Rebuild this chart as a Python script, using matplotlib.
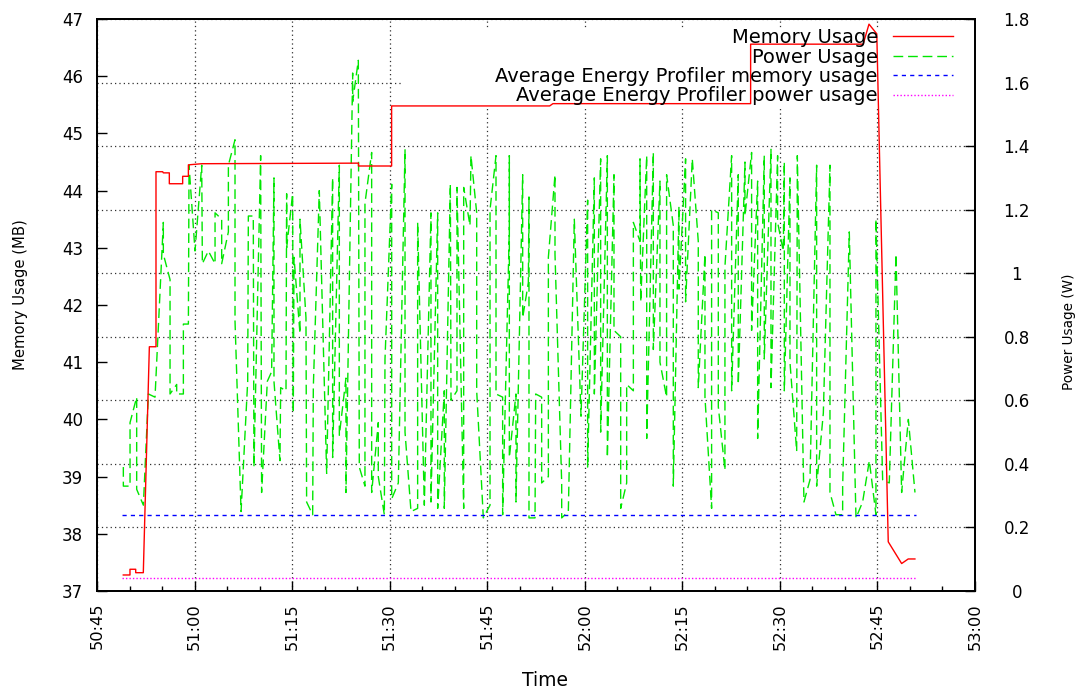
import matplotlib
matplotlib.use("Agg")
import matplotlib.pyplot as plt
from matplotlib.ticker import MultipleLocator, FuncFormatter
from matplotlib.patches import Rectangle

plt.rcParams['font.family'] = ['DejaVu Sans']

# ---------------- data (time = seconds after 50:00) ----------------
mem_time = [49.04, 50.07, 50.07, 50.95, 50.95, 52.12, 53.05, 54.07, 54.07, 55.1,
            55.2, 56.12, 56.12, 58.17, 58.17, 59.05, 59.05, 61.1, 85.2, 85.2,
            90.3, 90.3, 114.6, 115.1, 145.5, 145.5, 162.8, 163.7, 164.9, 166.66,
            168.72, 169.73, 170.76]
mem_mb = [37.28, 37.28, 37.38, 37.38, 37.32, 37.32, 41.27, 41.27, 44.33, 44.33,
          44.31, 44.31, 44.12, 44.12, 44.25, 44.25, 44.45, 44.47, 44.48, 44.43,
          44.43, 45.48, 45.48, 45.52, 45.52, 46.56, 46.56, 46.91, 46.74, 37.86,
          37.48, 37.56, 37.56]

power_time = [
    49.05, 49.05, 50.08, 50.08, 51.10, 51.10, 52.13, 52.90, 53.92, 55.20,
    55.20, 56.23, 56.23, 57.25, 57.25, 58.28, 58.28, 59.05, 59.15, 60.07,
    61.10, 61.20, 62.12, 63.15, 63.15, 64.17, 64.17, 65.20, 65.20, 66.22,
    66.22, 67.15, 68.17, 68.27,
    69.03, 69.13, 70.16, 70.31, 71.19, 71.85, 72.21, 72.21, 73.13, 73.24,
    74.06, 74.16, 74.16, 75.08, 75.18, 75.29, 76.21, 76.21, 77.13, 77.23,
    78.16, 78.26, 79.18, 80.31, 81.23, 81.23, 82.26, 82.26, 83.28, 83.28,
    84.31, 84.31, 85.18, 85.33, 86.20, 86.20, 87.23, 87.23, 88.25, 88.25,
    89.18, 89.28,
    90.31, 90.31, 91.33, 92.36, 92.36, 93.28, 94.30, 94.30, 95.33, 96.35,
    96.35, 97.38, 97.38, 98.40, 98.40, 99.33, 99.43, 100.35, 100.35, 101.38,
    101.38, 102.35, 102.50, 103.38, 103.38, 104.40, 105.43, 105.43, 106.35, 106.35,
    107.37, 107.37, 108.40, 108.40, 108.40, 109.42, 109.42,
    110.45, 110.45, 111.32, 111.42, 111.42, 112.35, 112.45, 113.37, 113.37, 114.40,
    114.40, 115.42, 115.42, 116.45, 116.45, 117.47, 118.39, 119.42, 120.44, 120.44,
    121.47, 121.47, 122.44, 122.44, 123.47, 123.47, 124.49, 124.49, 125.52, 125.52,
    126.44, 126.44, 127.47, 127.47, 128.49, 128.49, 128.60, 129.52, 129.52, 130.54,
    130.54,
    131.56, 131.56, 132.58, 132.58, 133.61, 133.61, 134.48, 134.48, 135.50, 135.50,
    136.53, 137.45, 137.45, 138.48, 138.48, 139.50, 139.50, 140.53, 140.53, 141.55,
    141.55, 142.58, 142.58, 143.60, 143.60, 144.63, 144.63, 145.65, 145.65, 146.58,
    146.58, 147.60, 147.60, 148.63, 148.63, 149.65, 149.65, 150.52, 150.68, 150.68,
    151.55, 151.55, 152.58, 152.68, 153.70, 154.63, 155.65, 155.65, 156.68, 157.70,
    157.70, 158.62, 159.65, 159.65, 160.67, 161.70, 162.72, 163.75, 164.77, 164.77,
    165.80, 166.82, 167.85, 168.72, 169.75, 170.77]
power_w = [
    0.39, 0.33, 0.33, 0.53, 0.61, 0.32, 0.27, 0.62, 0.61, 1.16,
    1.06, 0.98, 0.62, 0.65, 0.62, 0.62, 0.84, 0.84, 1.34, 1.07,
    1.34, 1.03, 1.07, 1.03, 1.19, 1.17, 1.03, 1.13, 1.34, 1.42,
    0.85, 0.25, 0.66, 1.18,
    1.18, 0.39, 1.37, 0.31, 0.66, 0.69, 1.30, 0.66, 0.41, 0.64,
    0.63, 1.25, 1.08, 1.25, 0.56, 1.05, 0.81, 1.17, 0.86, 0.28,
    0.24, 0.64, 1.26, 0.37, 1.30, 0.42, 1.34, 0.49, 0.67, 0.31,
    1.63, 1.54, 1.67, 0.39, 0.33, 1.22, 1.38, 0.31, 0.53, 0.36,
    0.24, 0.73,
    1.28, 0.29, 0.34, 1.39, 0.50, 0.25, 0.26, 1.16, 0.27, 1.19,
    0.28, 1.19, 0.26, 0.63, 0.26, 1.28, 0.60, 0.63, 1.27, 0.26,
    1.27, 1.15, 1.37, 1.19, 0.63, 0.23, 0.27, 1.20, 1.37, 0.62,
    0.61, 0.24, 1.14, 1.37, 0.42, 0.62, 0.28,
    1.31, 0.86, 0.97, 1.24, 0.23, 0.23, 0.62, 0.61, 0.34, 0.36,
    1.05, 1.31, 1.06, 0.34, 0.23, 0.25, 1.17, 0.55, 1.23, 0.39,
    1.30, 0.62, 1.36, 0.50, 1.37, 0.42, 1.31, 0.82, 0.80, 0.26,
    0.34, 0.65, 0.63, 1.16, 1.10, 1.36, 0.91, 1.37, 0.48, 1.38,
    0.76,
    1.29, 0.72, 0.61, 1.31, 1.15, 0.33, 1.21, 0.95, 1.36, 0.91,
    1.36, 1.10, 0.64, 1.06, 0.61, 0.26, 1.20, 1.19, 0.58, 0.38,
    1.02, 1.37, 0.63, 1.31, 0.65, 1.35, 1.18, 1.38, 0.82, 1.29,
    0.48, 1.37, 0.73, 1.39, 0.64, 1.37, 1.16, 1.07, 1.35, 0.63,
    1.30, 0.72, 0.44, 1.37, 0.28, 0.35, 1.34, 0.33, 0.56, 1.34,
    0.31, 0.24, 0.24, 0.33, 1.13, 0.23, 0.28, 0.41, 0.24, 1.17,
    0.35, 0.34, 1.06, 0.31, 0.54, 0.31]

avg_time = [48.8, 170.9]
avg_mem_mb = [38.33, 38.33]
avg_power_w = [0.04, 0.04]

labels = ['Memory Usage', 'Power Usage',
          'Average Energy Profiler memory usage',
          'Average Energy Profiler power usage']

# ---------------- figure ----------------
fig = plt.figure(figsize=(10.83, 6.89), dpi=100)
axp = fig.add_axes([0.08957, 0.14224, 0.81071, 0.83019])
axm = axp.twinx()

# power axis (right)
axp.set_xlim(45, 180)
axp.set_ylim(0, 1.8)
axp.yaxis.tick_right()
axp.yaxis.set_label_position('right')
axp.yaxis.set_major_locator(MultipleLocator(0.2))
axp.yaxis.set_major_formatter(FuncFormatter(lambda v, p: f"{round(v, 1):g}"))
axp.xaxis.set_major_locator(MultipleLocator(15))
axp.xaxis.set_minor_locator(MultipleLocator(5))


def tfmt(v, p):
    total = 50 * 60 + int(round(v))
    return f"{total // 60}:{total % 60:02d}"


axp.xaxis.set_major_formatter(FuncFormatter(tfmt))
axp.set_axisbelow(True)
axp.grid(True, which='major', color='#303030', linestyle=(0, (1, 2.5)), linewidth=0.9)
axp.add_patch(Rectangle((0.347, 0.848), 0.653, 0.137, transform=axp.transAxes,
                        facecolor='white', edgecolor='none', zorder=1))

lp, = axp.plot(power_time, power_w, color='#00e600', lw=1.0, dashes=(7, 3.5), zorder=2)
lpa, = axp.plot(avg_time, avg_power_w, color='#ff00ff', lw=1.0,
                linestyle=(0, (1, 1.5)), zorder=2)

axp.tick_params(axis='y', which='both', direction='in', length=7, width=1,
                right=True, left=False, labelright=True, labelleft=False,
                pad=30, labelsize=12)
for t in axp.get_yticklabels():
    t.set_horizontalalignment('center')
axp.tick_params(axis='x', which='major', direction='in', length=7.2, width=1,
                top=False, labelsize=11.7, labelrotation=90, pad=8.6)
axp.tick_params(axis='x', which='minor', direction='in', length=3.6, width=1, top=False)

# memory axis (left)
axm.set_ylim(37, 47)
axm.yaxis.tick_left()
axm.yaxis.set_label_position('left')
axm.yaxis.set_major_locator(MultipleLocator(1))
axm.tick_params(axis='y', direction='in', length=7.2, width=1, left=True, right=False,
                labelleft=True, labelright=False, pad=10, labelsize=12)

lm, = axm.plot(mem_time, mem_mb, color='#ff0000', lw=1.0)
lma, = axm.plot(avg_time, avg_mem_mb, color='#0000ff', lw=1.0, dashes=(3, 3))

for ax in (axp, axm):
    for s in ax.spines.values():
        s.set_linewidth(1.3)
        s.set_color('black')

axm.set_ylabel('Memory Usage (MB)', fontsize=10.6)
axm.yaxis.set_label_coords(-0.0786, 0.519)
axp.set_ylabel('Power Usage (W)', fontsize=9.8)
axp.yaxis.set_label_coords(1.099, 0.453)
axp.set_xlabel('Time', fontsize=13.5)
axp.xaxis.set_label_coords(0.51, -0.14)

axm.legend([lm, lp, lma, lpa], labels, loc='upper right',
           bbox_to_anchor=(0.975, 0.984), markerfirst=False, frameon=False,
           fontsize=14, handlelength=3.1, handletextpad=0.77,
           labelspacing=0.02, borderpad=0, borderaxespad=0)

fig.savefig('out.png', dpi=100)
